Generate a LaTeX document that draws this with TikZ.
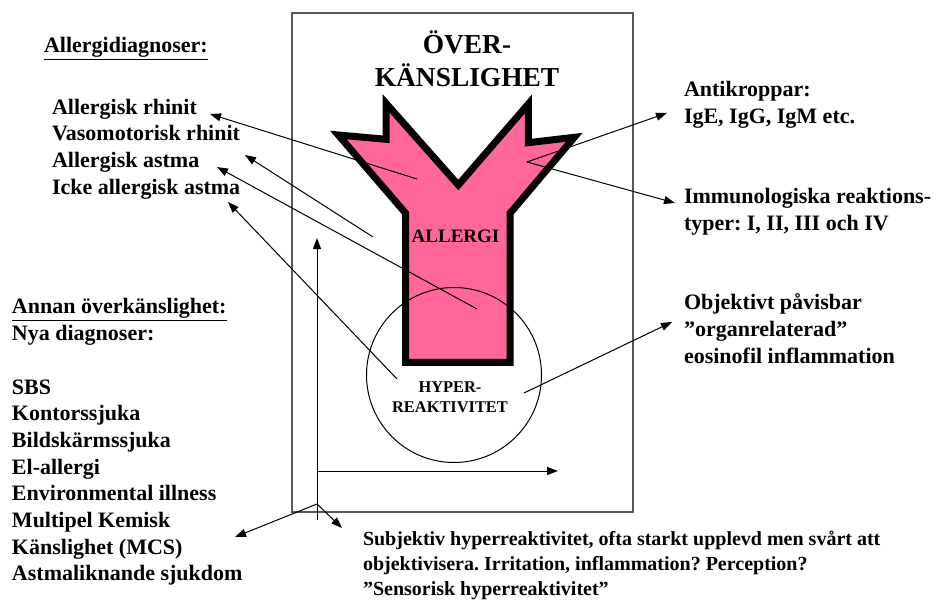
\documentclass[tikz,border=0pt]{standalone}
\usepackage{fontspec}
\setmainfont{Liberation Serif}
\usetikzlibrary{arrows.meta}
\frenchspacing
\definecolor{ypink}{HTML}{FF6699}
\definecolor{framegray}{HTML}{595959}
\tikzset{
  lbl/.style={inner sep=0pt, outer sep=0pt, anchor=north west, align=left,
    font=\fontsize{22}{26.7}\selectfont\bfseries},
  arr/.style={line width=1pt, -{Triangle[length=11pt,width=8pt]}},
  yshape/.style={fill=ypink, draw=black, line width=7pt, line join=miter, miter limit=4},
}
\begin{document}
\begin{tikzpicture}[x=1pt,y=-1pt]
\useasboundingbox (0,0) rectangle (937,604);
% frame
\draw[framegray, line width=1.3pt] (292,13) rectangle (633,512);
% Y shape
\draw[yshape] (338.3,135) -- (386,139.3) -- (386,103.3) -- (458.3,185) -- (528.3,104)
  -- (528.3,142.7) -- (574.3,137.3) -- (510,213.3) -- (510,362.3) -- (405.7,362.3)
  -- (405.7,213.3) -- cycle;
% circle
\node[draw, circle, line width=1pt, minimum size=175pt, inner sep=0pt] (hyp) at (454,375) {};
% texts
\node[anchor=north, inner sep=0pt, align=center, font=\fontsize{27.4}{33}\selectfont\bfseries]
  (title) at (467,30.2) {\strut ÖVER-\\\strut KÄNSLIGHET};
\node[anchor=base, inner sep=0pt, font=\fontsize{19}{23}\selectfont\bfseries] (allergi) at (455.5,243) {ALLERGI};
\node[anchor=north, inner sep=0pt, align=center, font=\fontsize{16.4}{20}\selectfont\bfseries]
  (hyptxt) at (450,378) {\strut HYPER-\\\strut REAKTIVITET};
\node[lbl] (hdr1) at (44,34.3) {\strut\underline{Allergidiagnoser:}};
\node[lbl] (list1) at (52,95.6) {\strut Allergisk rhinit\\\strut Vasomotorisk rhinit\\\strut Allergisk astma\\\strut Icke allergisk astma};
\node[lbl] (list2) at (12,295.3) {\strut\underline{Annan överkänslighet:}\\\strut Nya diagnoser:\\\strut\\\strut SBS\\\strut Kontorssjuka\\\strut Bildskärmssjuka\\\strut El-allergi\\\strut Environmental illness\\\strut Multipel Kemisk\\\strut Känslighet (MCS)\\\strut Astmaliknande sjukdom};
\node[lbl] (anti) at (684,78) {\strut Antikroppar:\\\strut IgE, IgG, IgM etc.};
\node[lbl] (immu) at (684,185.3) {\strut Immunologiska reaktions-\\\strut typer: I, II, III och IV};
\node[lbl] (obj) at (684,291.3) {\strut Objektivt påvisbar\\\strut ”organrelaterad”\\\strut eosinofil inflammation};
\node[lbl, font=\fontsize{20}{25}\selectfont\bfseries] (subj) at (363,527.5) {\strut Subjektiv hyperreaktivitet, ofta starkt upplevd men svårt att\\\strut objektivisera. Irritation, inflammation? Perception?\\\strut ”Sensorisk hyperreaktivitet”};
% connector end points
\coordinate (s1) at (417,179);   \coordinate (t1) at (210,114);
\coordinate (s2) at (373,237);   \coordinate (t2) at (245,155);
\coordinate (s3) at (477,309);   \coordinate (t3) at (217,167);
\coordinate (s4) at (397,379);   \coordinate (t4) at (228,202);
\coordinate (s5) at (527,162);   \coordinate (t5) at (667,113);
                                 \coordinate (t6) at (675,203);
\coordinate (s7) at (524,393);   \coordinate (t7) at (672,322);
\coordinate (vb) at (317,520);   \coordinate (vt) at (317,238);
\coordinate (hs) at (317,471);   \coordinate (he) at (558,471);
\coordinate (o)  at (317,504);   \coordinate (bl) at (235,537);
                                 \coordinate (br) at (342,528);
% connectors
\draw[arr] (s1) -- (t1);
\draw[arr] (s2) -- (t2);
\draw[arr] (s3) -- (t3);
\draw[arr] (s4) -- (t4);
\draw[arr] (s5) -- (t5);
\draw[arr] (s5) -- (t6);
\draw[arr] (s7) -- (t7);
\draw[arr] (vb) -- (vt);
\draw[arr] (hs) -- (he);
\draw[arr] (o) -- (bl);
\draw[arr] (o) -- (br);
\end{tikzpicture}
\end{document}
